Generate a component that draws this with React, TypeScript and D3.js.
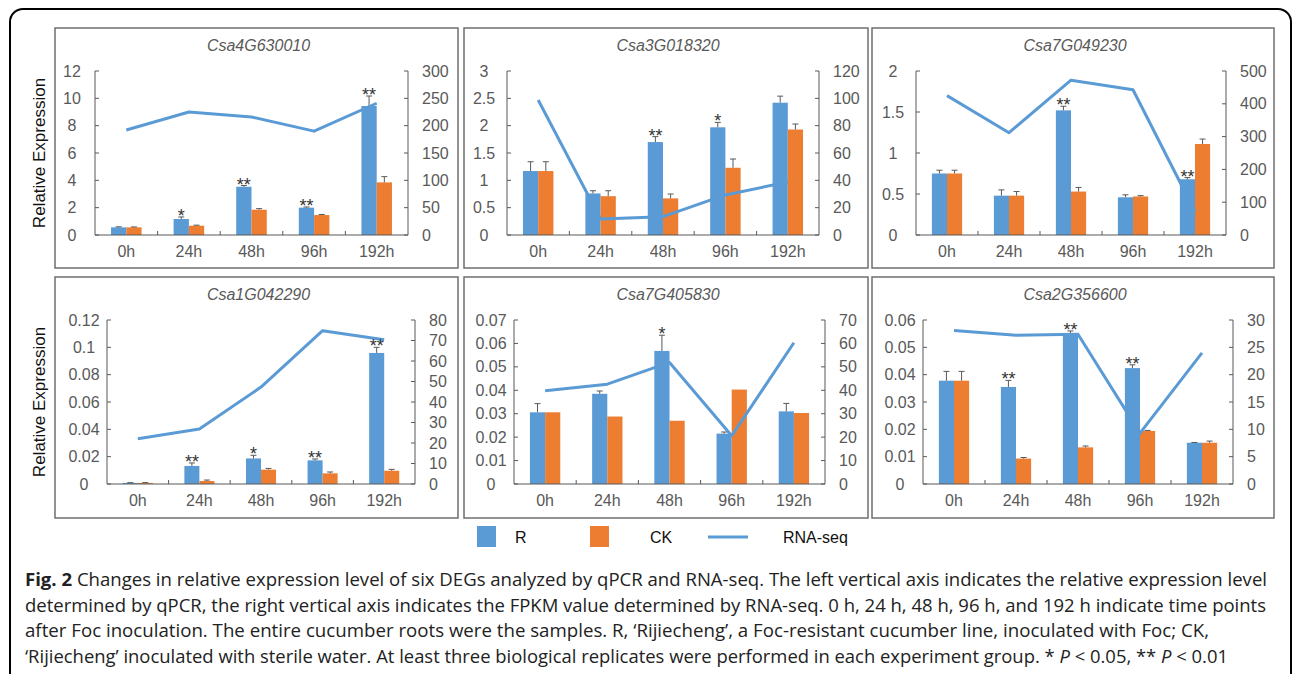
import React from 'react';
import * as d3 from 'd3';

const categories = ['0h', '24h', '48h', '96h', '192h'];
const genes = ['Csa4G630010', 'Csa3G018320', 'Csa7G049230', 'Csa1G042290', 'Csa7G405830', 'Csa2G356600'];

// Panel 1: Csa4G630010
const p1R = [0.56, 1.17, 3.53, 2.0, 9.44];
const p1RErr = [0.6, 1.32, 3.62, 2.05, 10.17];
const p1CK = [0.56, 0.68, 1.85, 1.46, 3.85];
const p1CKErr = [0.59, 0.72, 1.93, 1.5, 4.27];
const p1Seq = [192, 225, 216, 190, 241];
const p1Sig = ['', '*', '**', '**', '**'];
const p1Left = [0, 2, 4, 6, 8, 10, 12];
const p1Right = [0, 50, 100, 150, 200, 250, 300];

// Panel 2: Csa3G018320
const p2R = [1.17, 0.76, 1.7, 1.97, 2.42];
const p2RErr = [1.34, 0.81, 1.8, 2.06, 2.54];
const p2CK = [1.17, 0.71, 0.67, 1.23, 1.93];
const p2CKErr = [1.34, 0.81, 0.75, 1.39, 2.03];
const p2Seq = [98.8, 11.7, 13.4, 29.3, 38.8];
const p2Sig = ['', '', '**', '*', ''];
const p2Left = [0, 0.5, 1, 1.5, 2, 2.5, 3];
const p2Right = [0, 20, 40, 60, 80, 100, 120];

// Panel 3: Csa7G049230
const p3R = [0.75, 0.48, 1.52, 0.46, 0.68];
const p3RErr = [0.79, 0.55, 1.57, 0.49, 0.7];
const p3CK = [0.75, 0.48, 0.53, 0.47, 1.11];
const p3CKErr = [0.79, 0.53, 0.58, 0.48, 1.17];
const p3Seq = [425, 312, 472, 443, 71];
const p3Sig = ['', '', '**', '', '**'];
const p3Left = [0, 0.5, 1, 1.5, 2];
const p3Right = [0, 100, 200, 300, 400, 500];

// Panel 4: Csa1G042290
const p4R = [0.0008, 0.0132, 0.0187, 0.0173, 0.0959];
const p4RErr = [0.001, 0.0154, 0.021, 0.0183, 0.1];
const p4CK = [0.0008, 0.0022, 0.0105, 0.0078, 0.0097];
const p4CKErr = [0.001, 0.0029, 0.0114, 0.0088, 0.0107];
const p4Seq = [22.1, 26.8, 47.3, 74.8, 70.4];
const p4Sig = ['', '**', '*', '**', '**'];
const p4Left = [0, 0.02, 0.04, 0.06, 0.08, 0.1, 0.12];
const p4Right = [0, 10, 20, 30, 40, 50, 60, 70, 80];

// Panel 5: Csa7G405830
const p5R = [0.0306, 0.0385, 0.0568, 0.0215, 0.031];
const p5RErr = [0.0343, 0.0397, 0.0635, 0.0222, 0.0344];
const p5CK = [0.0306, 0.0288, 0.027, 0.0403, 0.0303];
const p5CKErr = [0.0306, 0.0288, 0.027, 0.0403, 0.0303];
const p5Seq = [39.8, 42.6, 51.9, 20.6, 60.3];
const p5Sig = ['', '', '*', '', ''];
const p5Left = [0, 0.01, 0.02, 0.03, 0.04, 0.05, 0.06, 0.07];
const p5Right = [0, 10, 20, 30, 40, 50, 60, 70];

// Panel 6: Csa2G356600
const p6R = [0.0378, 0.0355, 0.0542, 0.0424, 0.0151];
const p6RErr = [0.0412, 0.0379, 0.056, 0.0436, 0.0152];
const p6CK = [0.0378, 0.0093, 0.0134, 0.0194, 0.0151];
const p6CKErr = [0.0412, 0.0097, 0.0139, 0.0196, 0.0157];
const p6Seq = [28.1, 27.2, 27.4, 9.3, 24.0];
const p6Sig = ['', '**', '**', '**', ''];
const p6Left = [0, 0.01, 0.02, 0.03, 0.04, 0.05, 0.06];
const p6Right = [0, 5, 10, 15, 20, 25, 30];

const legendLabels = ['R', 'CK', 'RNA-seq'];

const BLUE = '#5B9BD5';
const ORANGE = '#ED7D31';
const GREY = '#595959';
const FONT = '"Liberation Sans", Arial, sans-serif';

const panelData = [
  { R: p1R, RE: p1RErr, CK: p1CK, CKE: p1CKErr, seq: p1Seq, sig: p1Sig, left: p1Left, right: p1Right },
  { R: p2R, RE: p2RErr, CK: p2CK, CKE: p2CKErr, seq: p2Seq, sig: p2Sig, left: p2Left, right: p2Right },
  { R: p3R, RE: p3RErr, CK: p3CK, CKE: p3CKErr, seq: p3Seq, sig: p3Sig, left: p3Left, right: p3Right },
  { R: p4R, RE: p4RErr, CK: p4CK, CKE: p4CKErr, seq: p4Seq, sig: p4Sig, left: p4Left, right: p4Right },
  { R: p5R, RE: p5RErr, CK: p5CK, CKE: p5CKErr, seq: p5Seq, sig: p5Sig, left: p5Left, right: p5Right },
  { R: p6R, RE: p6RErr, CK: p6CK, CKE: p6CKErr, seq: p6Seq, sig: p6Sig, left: p6Left, right: p6Right },
];

// layout: box [x0,y0,x1,y1], plot [xl, xr, yt, yb]
const layouts = [
  { box: [55, 28, 458, 268], plot: [95, 408, 71, 235], ylabel: true },
  { box: [464, 28, 868, 268], plot: [507, 819, 71, 235], ylabel: false },
  { box: [872, 28, 1274, 268], plot: [916, 1226, 71, 235], ylabel: false },
  { box: [55, 277, 458, 518], plot: [107, 415, 320, 484], ylabel: true },
  { box: [464, 277, 868, 518], plot: [514, 825, 320, 484], ylabel: false },
  { box: [872, 277, 1274, 518], plot: [923, 1233, 320, 484], ylabel: false },
];

const fmt = (v: number) => String(+v.toFixed(4));

function Panel({ idx }: { idx: number }) {
  const d = panelData[idx];
  const L = layouts[idx];
  const [bx0, by0, bx1, by1] = L.box;
  const [xl, xr, yt, yb] = L.plot;
  const x = d3.scaleBand<string>().domain(categories).range([xl, xr]).padding(0);
  const bw = x.bandwidth();
  const barW = bw * 0.244;
  const yL = d3.scaleLinear().domain([0, d.left[d.left.length - 1]]).range([yb, yt]);
  const yR = d3.scaleLinear().domain([0, d.right[d.right.length - 1]]).range([yb, yt]);
  const cx = (c: string) => (x(c) as number) + bw / 2;
  const line = d3
    .line<number>()
    .x((_, i) => cx(categories[i]))
    .y((v) => yR(v));
  const titleX = (bx0 + bx1) / 2 + 2;

  return (
    <g>
      <rect x={bx0} y={by0} width={bx1 - bx0} height={by1 - by0} fill="#fff" stroke="#6f6f6f" strokeWidth={1.5} />
      <text x={titleX} y={yt - 20} textAnchor="middle" fontStyle="italic" fontSize={16} fill={GREY} fontFamily={FONT}>
        {genes[idx]}
      </text>
      {L.ylabel && (
        <text
          transform={`translate(${bx0 - 10},${(yt + yb) / 2}) rotate(-90)`}
          textAnchor="middle"
          fontSize={17}
          fill="#111"
          fontFamily={FONT}
        >
          Relative Expression
        </text>
      )}
      {/* bars */}
      {categories.map((c, i) => (
        <g key={c}>
          <rect x={cx(c) - barW} y={yL(d.R[i])} width={barW} height={yb - yL(d.R[i])} fill={BLUE} />
          <rect x={cx(c)} y={yL(d.CK[i])} width={barW} height={yb - yL(d.CK[i])} fill={ORANGE} />
        </g>
      ))}
      {/* error bars */}
      {categories.map((c, i) => {
        const items = [
          { xc: cx(c) - barW / 2, v: d.R[i], e: d.RE[i] },
          { xc: cx(c) + barW / 2, v: d.CK[i], e: d.CKE[i] },
        ];
        return items.map((it, j) =>
          it.e > it.v ? (
            <g key={c + j} stroke={GREY} strokeWidth={1}>
              <line x1={it.xc} x2={it.xc} y1={yL(it.v)} y2={yL(it.e)} />
              <line x1={it.xc - 3} x2={it.xc + 3} y1={yL(it.e)} y2={yL(it.e)} />
            </g>
          ) : null
        );
      })}
      {/* axes */}
      <g stroke={GREY} strokeWidth={1} fill="none">
        <line x1={xl} x2={xl} y1={yt} y2={yb} />
        <line x1={xr} x2={xr} y1={yt} y2={yb} />
        <line x1={xl} x2={xr} y1={yb} y2={yb} />
        {d.left.map((t) => (
          <line key={'l' + t} x1={xl} x2={xl + 4} y1={yL(t)} y2={yL(t)} />
        ))}
        {d.right.map((t) => (
          <line key={'r' + t} x1={xr - 4} x2={xr} y1={yR(t)} y2={yR(t)} />
        ))}
        {categories.slice(1).map((c) => (
          <line key={'x' + c} x1={x(c) as number} x2={x(c) as number} y1={yb} y2={yb - 4} />
        ))}
      </g>
      {d.left.map((t) => (
        <text key={'lt' + t} x={xl - 23} y={yL(t) + 5.5} textAnchor="middle" fontSize={16} fill={GREY} fontFamily={FONT}>
          {fmt(t)}
        </text>
      ))}
      {d.right.map((t) => (
        <text key={'rt' + t} x={xr + 14} y={yR(t) + 5.5} textAnchor="start" fontSize={16} fill={GREY} fontFamily={FONT}>
          {fmt(t)}
        </text>
      ))}
      {categories.map((c) => (
        <text key={'xt' + c} x={cx(c)} y={yb + 22} textAnchor="middle" fontSize={16} fill={GREY} fontFamily={FONT}>
          {c}
        </text>
      ))}
      {/* RNA-seq line */}
      <path d={line(d.seq) || ''} fill="none" stroke={BLUE} strokeWidth={3} strokeLinejoin="round" />
      {/* significance */}
      {categories.map((c, i) =>
        d.sig[i] ? (
          <text
            key={'s' + c}
            x={cx(c) - barW / 2}
            y={yL(Math.max(d.RE[i], d.R[i])) + 5}
            textAnchor="middle"
            fontSize={18}
            fill="#333"
            fontFamily={FONT}
          >
            {d.sig[i]}
          </text>
        ) : null
      )}
    </g>
  );
}

const captionLines = [
  ' Changes in relative expression level of six DEGs analyzed by qPCR and RNA-seq. The left vertical axis indicates the relative expression level',
  'determined by qPCR, the right vertical axis indicates the FPKM value determined by RNA-seq. 0 h, 24 h, 48 h, 96 h, and 192 h indicate time points',
  'after Foc inoculation. The entire cucumber roots were the samples. R, \u2018Rijiecheng\u2019, a Foc-resistant cucumber line, inoculated with Foc; CK,',
  '\u2018Rijiecheng\u2019 inoculated with sterile water. At least three biological replicates were performed in each experiment group. * ',
];

export default function App() {
  const CF = '"Open Sans", "Noto Sans", sans-serif';
  const capX = 25;
  const capY = [586, 611.5, 637, 662.5];
  const capEnd = [1267, 1266, 1209, 1228];
  return (
    <svg width={1292} height={674} style={{ position: 'absolute', left: 0, top: 0, background: '#fff' }}>
      <rect x={0} y={0} width={1292} height={674} fill="#fff" />
      <path d="M10,690 L10,22 A13,13 0 0 1 23,9 L1278,9 A13,13 0 0 1 1291,22 L1291,690" fill="none" stroke="#000" strokeWidth={2} />
      {[0, 1, 2, 3, 4, 5].map((i) => (
        <Panel key={i} idx={i} />
      ))}
      {/* legend */}
      <g fontFamily={FONT} fontSize={16} fill="#111">
        <rect x={477} y={526} width={19} height={21} fill={BLUE} />
        <text x={515} y={543}>{legendLabels[0]}</text>
        <rect x={590} y={526} width={19} height={21} fill={ORANGE} />
        <text x={650} y={543}>{legendLabels[1]}</text>
        <line x1={708} x2={748} y1={537} y2={537} stroke={BLUE} strokeWidth={3} />
        <text x={783} y={543}>{legendLabels[2]}</text>
      </g>
      {/* caption */}
      <g fontFamily={CF} fontSize={18} fill="#222">
        <text x={capX} y={capY[0]} textLength={capEnd[0] - capX} lengthAdjust="spacingAndGlyphs">
          <tspan fontWeight="bold">Fig. 2</tspan>
          <tspan>{captionLines[0]}</tspan>
        </text>
        <text x={capX} y={capY[1]} textLength={capEnd[1] - capX} lengthAdjust="spacingAndGlyphs">
          {captionLines[1]}
        </text>
        <text x={capX} y={capY[2]} textLength={capEnd[2] - capX} lengthAdjust="spacingAndGlyphs">
          {captionLines[2]}
        </text>
        <text x={capX} y={capY[3]} textLength={capEnd[3] - capX} lengthAdjust="spacingAndGlyphs">
          {captionLines[3]}
          <tspan fontStyle="italic">P</tspan>
          <tspan>{' < 0.05, ** '}</tspan>
          <tspan fontStyle="italic">P</tspan>
          <tspan>{' < 0.01'}</tspan>
        </text>
      </g>
    </svg>
  );
}
